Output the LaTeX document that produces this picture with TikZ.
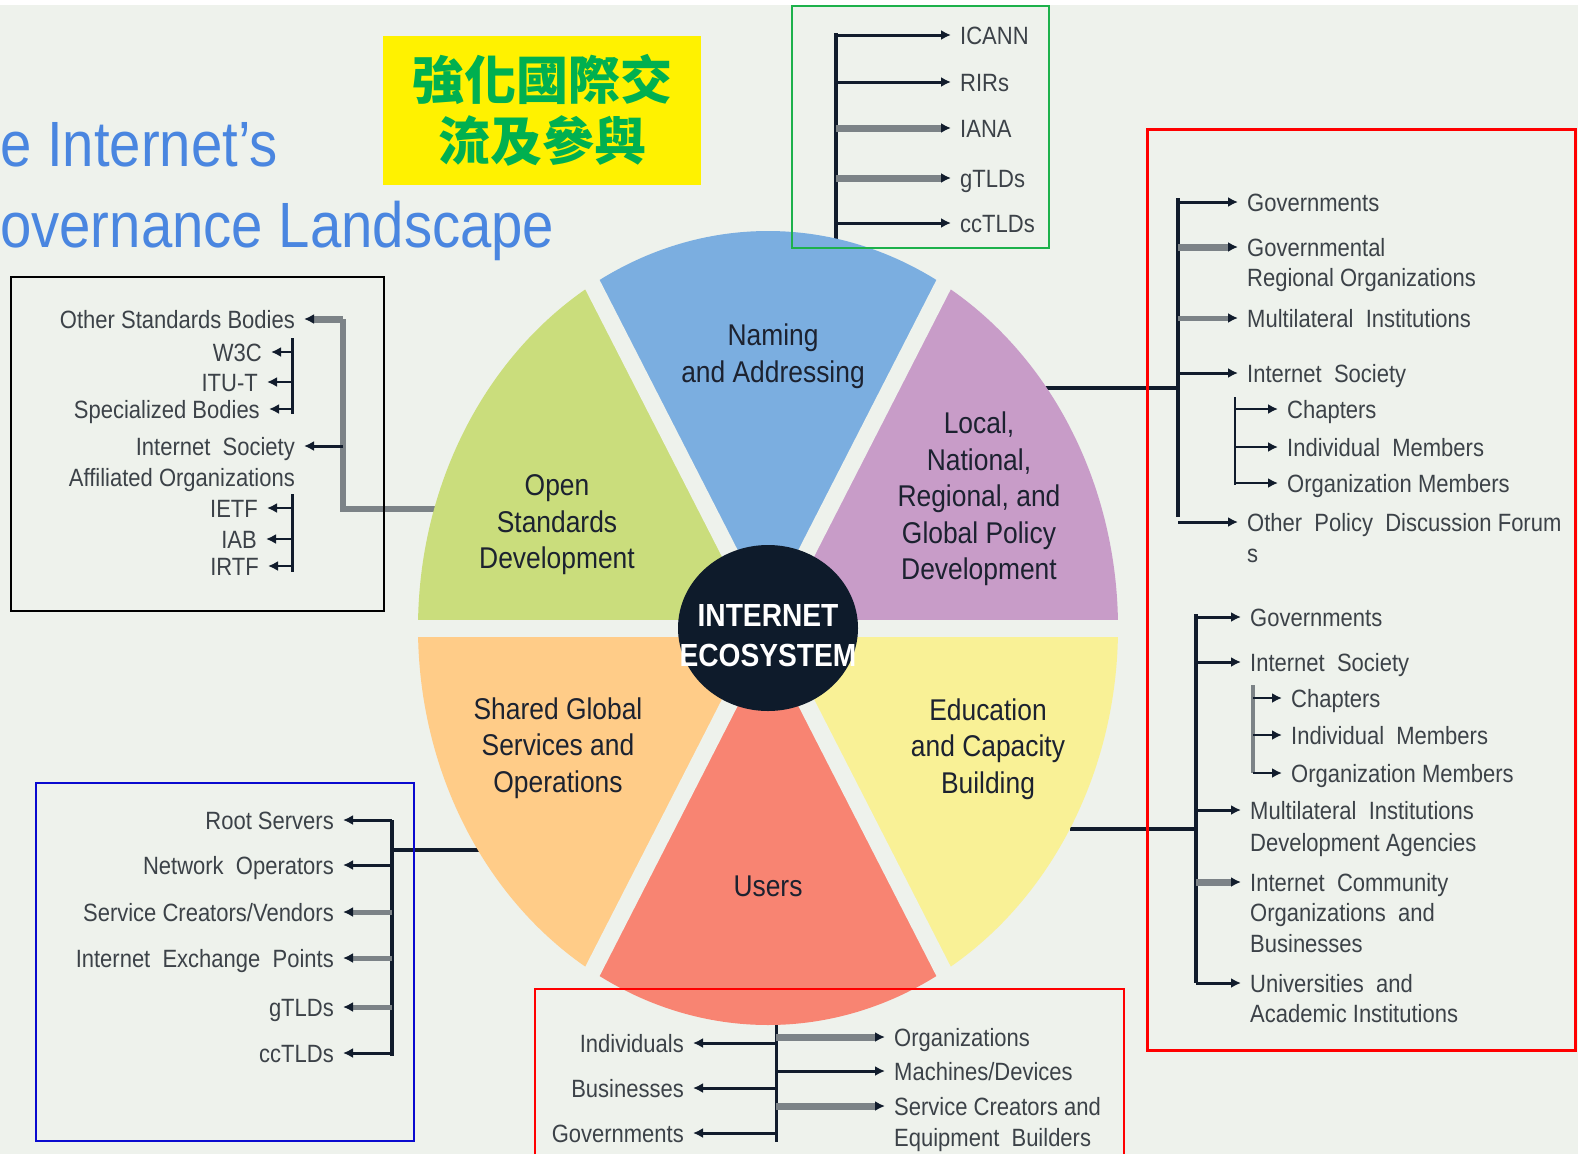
\documentclass[tikz,border=0pt]{standalone}
\usepackage{fontspec}
\setmainfont{Liberation Sans}[FakeStretch=0.88]
\newfontfamily\cjkfont{Noto Sans CJK TC}
\usetikzlibrary{arrows.meta,positioning}

\definecolor{cPaper}{HTML}{EEF2EC}
\definecolor{cNavy}{HTML}{111C2C}
\definecolor{cGray}{HTML}{7C8387}
\definecolor{cItem}{HTML}{3C4248}
\definecolor{cSecText}{HTML}{1C2230}
\definecolor{cTitle}{HTML}{4A86E0}
\definecolor{cNote}{HTML}{00B050}
\definecolor{cBlue}{HTML}{7BAEE0}
\definecolor{cGreen}{HTML}{CADD7C}
\definecolor{cPurple}{HTML}{C89CC8}
\definecolor{cOrange}{HTML}{FFCC88}
\definecolor{cSalmon}{HTML}{F88472}
\definecolor{cYellow}{HTML}{F9F196}
\definecolor{cHub}{HTML}{0E1B2B}
\definecolor{cBoxGreen}{HTML}{1DB14B}
\definecolor{cBoxBlue}{HTML}{0A0ACF}

\tikzset{
  item/.style={font=\fontsize{25}{30}\selectfont, text=cItem, inner sep=4pt,
    text height=18pt, text depth=0pt},
  seclabel/.style={font=\fontsize{30}{36.5}\selectfont, text=cSecText, align=center},
  titletext/.style={font=\fontsize{64}{70}\selectfont, text=cTitle, inner sep=0pt},
  darkarr/.style={draw=cNavy, line width=3pt, shorten >=5pt,
    -{Latex[length=10pt,width=10pt]}},
  grayarr/.style={draw=cGray, line width=7pt, shorten >=5pt,
    -{Latex[length=10pt,width=10pt,color=cNavy]}},
  trunk/.style={draw=cNavy, line width=4pt},
  graytrunk/.style={draw=cGray, line width=6pt},
}

\newcommand{\wheelwedge}[3]{%
  \fill[#1] (hub) -- ++(#2:350 and 397)
    arc[start angle=#2, end angle=#3, x radius=350, y radius=397] -- cycle;}

\begin{document}
\begin{tikzpicture}[x=1pt,y=-1pt]
\useasboundingbox (0,0) rectangle (1578,1154);
\fill[cPaper] (0,0) rectangle (1578,1154);
\fill[white] (0,0) rectangle (1578,5);

% title
\node[titletext,anchor=base west] (title1) at (0,166) {e Internet’s};
\node[titletext,anchor=base west] (title2) at (0,247) {overnance Landscape};

% yellow note
\node[fill=yellow, minimum width=318pt, minimum height=149pt, align=center,
  font=\cjkfont\bfseries\fontsize{52}{61}\selectfont, text=cNote] (note)
  at (542,110.5) {強化國際交\\流及參與};

% naming and addressing
\path
(956,35) node[item,anchor=west] (icann) {ICANN}
(956,82) node[item,anchor=west] (rirs) {RIRs}
(956,128) node[item,anchor=west] (iana) {IANA}
(956,178) node[item,anchor=west] (gtld) {gTLDs}
(956,223) node[item,anchor=west] (cctld) {ccTLDs};
\coordinate (nTop) at (836,33);
\coordinate (nBot) at (836,240);
\draw[trunk] (nTop) -- (nBot);
\draw[darkarr] (icann.west -| nTop) -- (icann.west);
\draw[darkarr] (rirs.west -| nTop) -- (rirs.west);
\draw[grayarr] (iana.west -| nTop) -- (iana.west);
\draw[grayarr] (gtld.west -| nTop) -- (gtld.west);
\draw[darkarr] (cctld.west -| nTop) -- (cctld.west);

% open standards
\path
(299,319) node[item,anchor=east] (osb) {Other Standards Bodies}
(266,352) node[item,anchor=east] (wc) {W3C}
(262,382) node[item,anchor=east] (itu) {ITU-T}
(264,409) node[item,anchor=east] (spec) {Specialized Bodies}
(299,446) node[item,anchor=east] (isaff) {Internet\ \ Society}
(299,477) node[item,anchor=east] (isaff2) {Affiliated Organizations}
(262,508) node[item,anchor=east] (ietf) {IETF}
(261,539) node[item,anchor=east] (iab) {IAB}
(263,566) node[item,anchor=east] (irtf) {IRTF};
\coordinate (oFrom) at (440,509);
\coordinate (oTop) at (343,319);
\coordinate (oBot) at (343,509);
\coordinate (sA1) at (292,338);
\coordinate (sA2) at (292,414);
\coordinate (sB1) at (292,494);
\coordinate (sB2) at (292,572);
\draw[graytrunk] (oFrom) -- (oBot) -- (oTop);
\draw[grayarr] (osb.east -| oTop) -- (osb.east);
\draw[darkarr] (isaff.east -| oTop) -- (isaff.east);
\draw[trunk, line width=3pt] (sA1) -- (sA2);
\draw[trunk, line width=3pt] (sB1) -- (sB2);
\foreach \n in {wc,itu,spec}
  \draw[darkarr, line width=2.5pt] (\n.east -| sA1) -- (\n.east);
\foreach \n in {ietf,iab,irtf}
  \draw[darkarr, line width=2.5pt] (\n.east -| sB1) -- (\n.east);

% policy development
\path
(1243,202) node[item,anchor=west] (pgov) {Governments}
(1243,247) node[item,anchor=west] (pgro) {Governmental}
(1243,277) node[item,anchor=west] (pgro2) {Regional Organizations}
(1243,318) node[item,anchor=west] (pmul) {Multilateral\ \ Institutions}
(1243,373) node[item,anchor=west] (pisoc) {Internet\ \ Society}
(1283,409) node[item,anchor=west] (pchap) {Chapters}
(1283,447) node[item,anchor=west] (pind) {Individual\ \ Members}
(1283,483) node[item,anchor=west] (porg) {Organization Members}
(1243,522) node[item,anchor=west] (poth) {Other\ \ Policy\ \ Discussion Forum}
(1243,553) node[item,anchor=west] (poth2) {s};
\coordinate (pFrom) at (1040,388);
\coordinate (pTop) at (1178,198);
\coordinate (pBot) at (1178,517);
\coordinate (pSub1) at (1235,397);
\coordinate (pSub2) at (1235,485);
\draw[trunk] (pTop) -- (pBot);
\draw[trunk] (pFrom) -- (pFrom -| pTop);
\draw[darkarr] (pgov.west -| pTop) -- (pgov.west);
\draw[grayarr] (pgro.west -| pTop) -- (pgro.west);
\draw[grayarr, line width=5pt] (pmul.west -| pTop) -- (pmul.west);
\draw[darkarr] (pisoc.west -| pTop) -- (pisoc.west);
\draw[darkarr] (poth.west -| pTop) -- (poth.west);
\draw[trunk, line width=2.5pt] (pSub1) -- (pSub2);
\foreach \n in {pchap,pind,porg}
  \draw[darkarr, line width=2.5pt] (\n.west -| pSub1) -- (\n.west);

% capacity building
\path
(1246,617) node[item,anchor=west] (egov) {Governments}
(1246,662) node[item,anchor=west] (eisoc) {Internet\ \ Society}
(1287,698) node[item,anchor=west] (echap) {Chapters}
(1287,735) node[item,anchor=west] (eind) {Individual\ \ Members}
(1287,773) node[item,anchor=west] (eorg) {Organization Members}
(1246,810) node[item,anchor=west] (emul) {Multilateral\ \ Institutions}
(1246,842) node[item,anchor=west] (emul2) {Development Agencies}
(1246,882) node[item,anchor=west] (ecom) {Internet\ \ Community}
(1246,912) node[item,anchor=west] (ecom2) {Organizations\ \ and}
(1246,943) node[item,anchor=west] (ecom3) {Businesses}
(1246,983) node[item,anchor=west] (euni) {Universities\ \ and}
(1246,1013) node[item,anchor=west] (euni2) {Academic Institutions};
\coordinate (eFrom) at (1070,829);
\coordinate (eTop) at (1196,614);
\coordinate (eBot) at (1196,983);
\coordinate (eSub1) at (1253,685);
\coordinate (eSub2) at (1253,773);
\draw[trunk] (eTop) -- (eBot);
\draw[trunk] (eFrom) -- (eFrom -| eTop);
\draw[darkarr] (egov.west -| eTop) -- (egov.west);
\draw[darkarr] (eisoc.west -| eTop) -- (eisoc.west);
\draw[darkarr] (emul.west -| eTop) -- (emul.west);
\draw[grayarr] (ecom.west -| eTop) -- (ecom.west);
\draw[darkarr] (euni.west -| eTop) -- (euni.west);
\draw[graytrunk, line width=4pt] (eSub1) -- (eSub2);
\foreach \n in {echap,eind,eorg}
  \draw[darkarr, line width=2.5pt] (\n.west -| eSub1) -- (\n.west);

% shared global services
\path
(338,820) node[item,anchor=east] (sroot) {Root Servers}
(338,865) node[item,anchor=east] (snet) {Network\ \ Operators}
(338,912) node[item,anchor=east] (ssvc) {Service Creators/Vendors}
(338,958) node[item,anchor=east] (sixp) {Internet\ \ Exchange\ \ Points}
(338,1007) node[item,anchor=east] (sgtld) {gTLDs}
(338,1053) node[item,anchor=east] (scctld) {ccTLDs};
\coordinate (sFrom) at (480,850);
\coordinate (sTop) at (392,820);
\coordinate (sBot) at (392,1056);
\draw[trunk] (sTop) -- (sBot);
\draw[trunk] (sFrom) -- (sFrom -| sTop);
\draw[darkarr] (sroot.east -| sTop) -- (sroot.east);
\draw[darkarr] (snet.east -| sTop) -- (snet.east);
\draw[grayarr, line width=5pt] (ssvc.east -| sTop) -- (ssvc.east);
\draw[grayarr, line width=5pt] (sixp.east -| sTop) -- (sixp.east);
\draw[grayarr, line width=5pt] (sgtld.east -| sTop) -- (sgtld.east);
\draw[darkarr] (scctld.east -| sTop) -- (scctld.east);

% users
\path
(688,1043) node[item,anchor=east] (uind) {Individuals}
(688,1088) node[item,anchor=east] (ubus) {Businesses}
(688,1133) node[item,anchor=east] (ugov) {Governments}
(890,1037) node[item,anchor=west] (uorg) {Organizations}
(890,1071) node[item,anchor=west] (umac) {Machines/Devices}
(890,1106) node[item,anchor=west] (usvc) {Service Creators and}
(890,1137) node[item,anchor=west] (usvc2) {Equipment\ \ Builders};
\coordinate (uTop) at (776,1020);
\coordinate (uBot) at (776,1142);
\draw[trunk, line width=3pt] (uTop) -- (uBot);
\foreach \n in {uind,ubus,ugov}
  \draw[darkarr] (\n.east -| uTop) -- (\n.east);
\draw[grayarr] (uorg.west -| uTop) -- (uorg.west);
\draw[darkarr] (umac.west -| uTop) -- (umac.west);
\draw[grayarr] (usvc.west -| uTop) -- (usvc.west);

% the wheel
\coordinate (hub) at (768,628);
\wheelwedge{cPurple}{0}{-60}
\wheelwedge{cBlue}{-60}{-120}
\wheelwedge{cGreen}{-120}{-180}
\wheelwedge{cOrange}{180}{120}
\wheelwedge{cSalmon}{120}{60}
\wheelwedge{cYellow}{60}{0}
\foreach \a in {0,60,...,300}
  \draw[cPaper, line width=17pt] (hub) -- ++(\a:372 and 420);
\fill[cHub] (hub) ellipse[x radius=90, y radius=83];

\node[seclabel] (naming) at (773,356) {Naming\\and Addressing};
\node[seclabel] (policy) at (979,499) {Local,\\National,\\Regional, and\\Global Policy\\Development};
\node[seclabel] (opensd) at (557,525) {Open\\Standards\\Development};
\node[seclabel] (shared) at (558,748) {Shared Global\\Services and\\Operations};
\node[seclabel] (users) at (768,886) {Users};
\node[seclabel] (educ) at (988,749) {Education\\and Capacity\\Building};
\node[font=\bfseries\fontsize{32}{40}\selectfont, text=white, align=center] (hubtext)
  at (768,636) {INTERNET\\ECOSYSTEM};

% frames
\draw[cBoxGreen, line width=2pt] (792,6) rectangle (1049,248);
\draw[black, line width=2.5pt] (11,277) rectangle (384,611);
\draw[red, line width=3pt] (1147,129) rectangle (1575,1050);
\draw[cBoxBlue, line width=2pt] (36,783) rectangle (414,1141);
\draw[red, line width=2pt] (535,1154) -- (535,989) -- (1124,989) -- (1124,1154);
\end{tikzpicture}
\end{document}
